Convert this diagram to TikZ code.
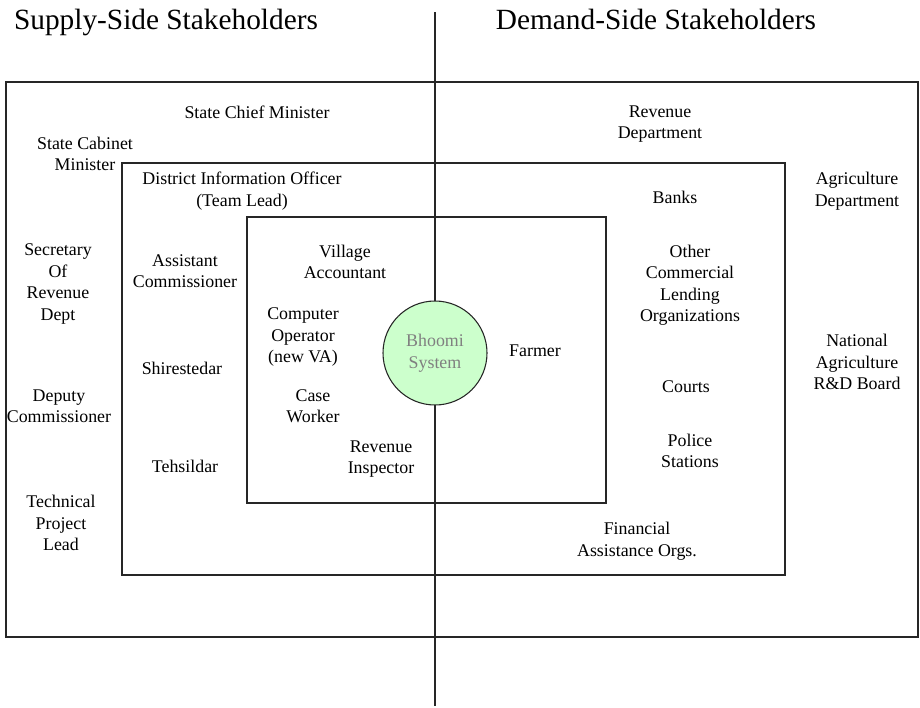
\documentclass[tikz,border=0pt]{standalone}
\usepackage{fontspec}
\setmainfont{Liberation Serif}
\definecolor{bhoomigreen}{HTML}{CCFFCC}

\begin{document}
\begin{tikzpicture}
    [
      x=0.75pt, y=-0.75pt,
      holder/.style={align=center, inner sep=0pt, font=\fontsize{13.4}{16.1}\selectfont},
      side/.style={anchor=base, inner sep=0pt, font=\fontsize{22}{26}\selectfont},
      frame/.style={draw=black!85, line width=0.8pt}
    ]
    \useasboundingbox (0,0) rectangle (920,707);
    % nested boxes
    \draw [frame] (6,82) rectangle (918,637);
    \draw [frame] (122,163) rectangle (785,575);
    \draw [frame] (247,217) rectangle (606,503);
    % divider between the two sides
    \coordinate (top) at (435,12);
    \coordinate (bottom) at (435,706);
    \draw [frame] (top) -- (bottom);
    \node [circle, draw=black!85, line width=0.8pt, fill=bhoomigreen,
      minimum size=78pt, inner sep=0pt, align=center, text=black!50,
      font=\fontsize{13.4}{16.1}\selectfont] (bhoomi) at (435,353) {Bhoomi\\System};
    % headings
    \node [side] (supply) at (166,29) {Supply-Side Stakeholders};
    \node [side] (demand) at (656,29) {Demand-Side Stakeholders};
    % supply side
    \node [holder] (chief) at (257,112) {State Chief Minister};
    \node [holder] (cabinet) at (85,154) {State Cabinet\\Minister};
    \node [holder] (dio) at (242,191) {District Information Officer\\(Team Lead)};
    \node [holder] (secretary) at (58,284) {Secretary\\Of\\Revenue\\Dept};
    \node [holder] (asstcomm) at (185,271) {Assistant\\Commissioner};
    \node [holder] (va) at (345,262) {Village\\Accountant};
    \node [holder] (operator) at (303,337) {Computer\\Operator\\(new VA)};
    \node [holder] (shirestedar) at (182,368) {Shirestedar};
    \node [holder] (deputy) at (59,406) {Deputy\\Commissioner};
    \node [holder] (caseworker) at (313,406) {Case\\Worker};
    \node [holder] (tehsildar) at (185,466) {Tehsildar};
    \node [holder] (inspector) at (381,459) {Revenue\\Inspector};
    \node [holder] (techlead) at (61,523) {Technical\\Project\\Lead};
    % demand side
    \node [holder] (revdept) at (660,124) {Revenue\\Department};
    \node [holder] (banks) at (675,197) {Banks};
    \node [holder] (agridept) at (857,191) {Agriculture\\Department};
    \node [holder] (lenders) at (690,285) {Other\\Commercial\\Lending\\Organizations};
    \node [holder] (farmer) at (535,351) {Farmer};
    \node [holder] (nard) at (857,362) {National\\Agriculture\\R\&D Board};
    \node [holder] (courts) at (686,387) {Courts};
    \node [holder] (police) at (690,451) {Police\\Stations};
    \node [holder] (finorgs) at (637,541) {Financial\\Assistance Orgs.};
\end{tikzpicture}
\end{document}
